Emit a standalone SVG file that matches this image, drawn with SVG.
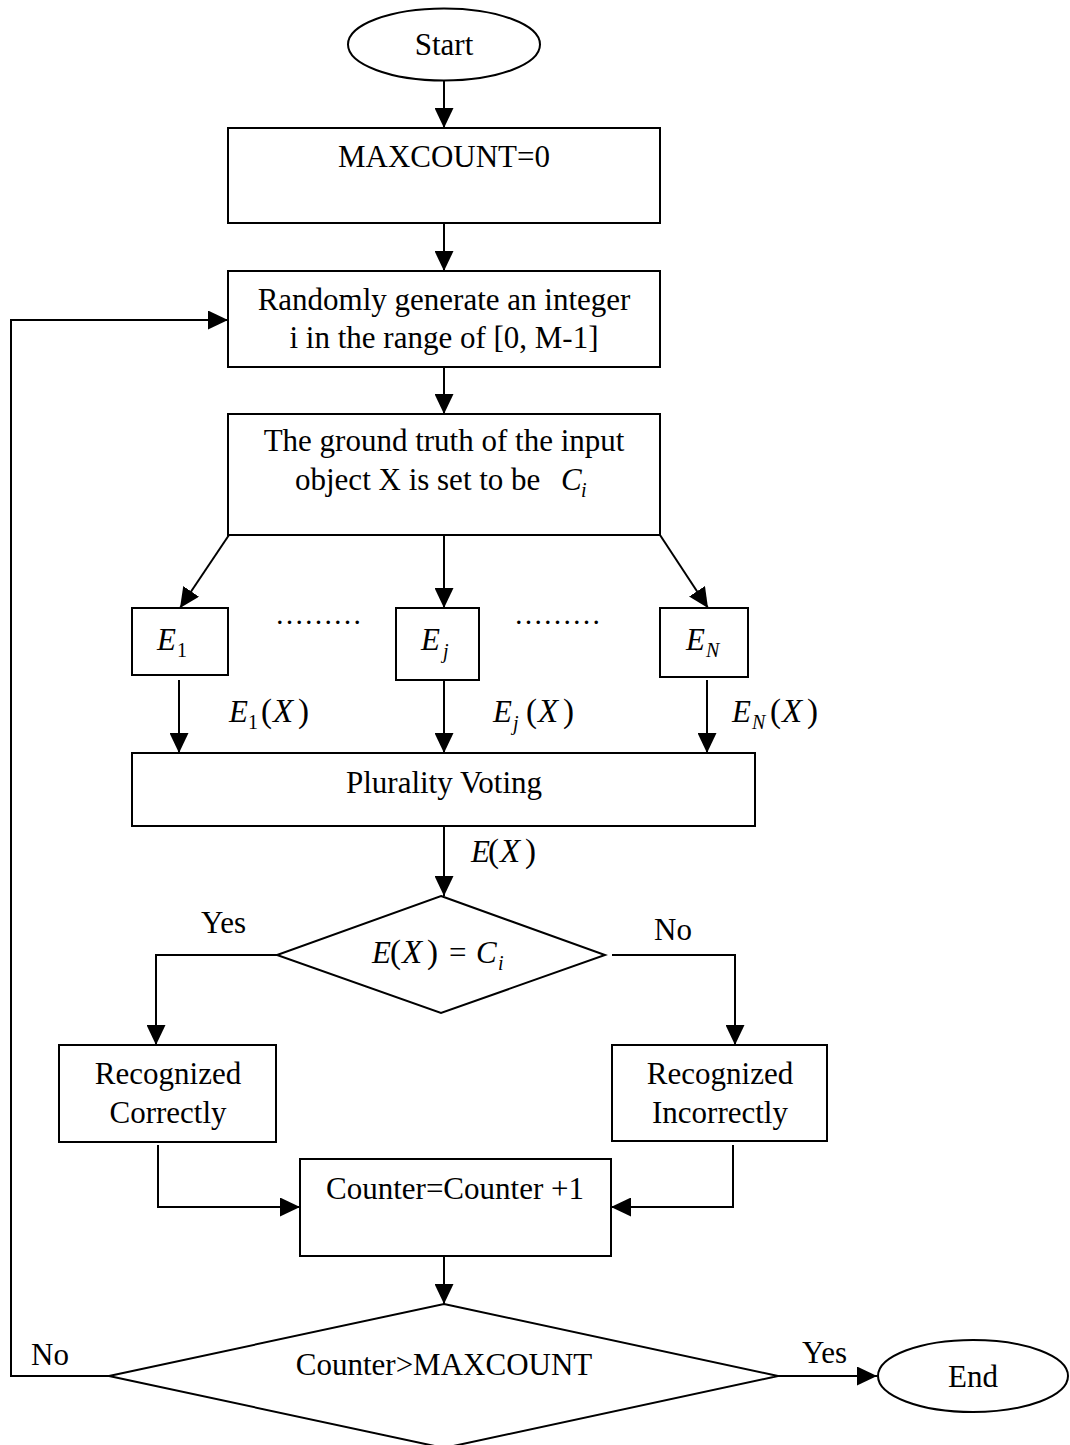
<svg xmlns="http://www.w3.org/2000/svg" width="1070" height="1445" viewBox="0 0 1070 1445">
<defs>
<marker id="ah" markerUnits="userSpaceOnUse" markerWidth="20" markerHeight="19" refX="20" refY="9.5" orient="auto"><path d="M0,0 L20,9.5 L0,19 z" fill="#000"/></marker>
<style>
.n{fill:#fff;stroke:#000;stroke-width:2}
.c{fill:none;stroke:#000;stroke-width:2}
.a{marker-end:url(#ah)}
text{font-family:"Liberation Serif","Times New Roman",serif;font-size:31px;fill:#000}
.m{text-anchor:middle}
.i{font-style:italic}
.u{font-style:normal}
.s{font-size:20px}
.x{font-size:33px}
</style>
</defs>
<rect width="1070" height="1445" fill="#fff"/>
<g id="connectors">
<line class="c a" x1="444" y1="81" x2="444" y2="128"/>
<line class="c a" x1="444" y1="223" x2="444" y2="271"/>
<line class="c a" x1="444" y1="367" x2="444" y2="414"/>
<line class="c a" x1="229" y1="535" x2="180" y2="608"/>
<line class="c a" x1="444" y1="535" x2="444" y2="608"/>
<line class="c a" x1="660" y1="535" x2="708" y2="608"/>
<line class="c a" x1="179" y1="680" x2="179" y2="753"/>
<line class="c a" x1="444" y1="680" x2="444" y2="753"/>
<line class="c a" x1="707" y1="680" x2="707" y2="753"/>
<line class="c a" x1="444" y1="826" x2="444" y2="896"/>
<polyline class="c a" points="277,955 156,955 156,1045"/>
<polyline class="c a" points="612,955 735,955 735,1045"/>
<polyline class="c a" points="158,1145 158,1207 300,1207"/>
<polyline class="c a" points="733,1145 733,1207 611,1207"/>
<line class="c a" x1="444" y1="1256" x2="444" y2="1304"/>
<polyline class="c a" points="109,1376 11,1376 11,320 228,320"/>
<line class="c a" x1="778" y1="1376" x2="877" y2="1376"/>
</g>
<g id="start">
<ellipse class="n" cx="444" cy="44.5" rx="96" ry="36"/>
<text class="m" x="444" y="55">Start</text>
</g>
<g id="maxcount">
<rect class="n" x="228" y="128" width="432" height="95"/>
<text class="m" x="444" y="167">MAXCOUNT=0</text>
</g>
<g id="random">
<rect class="n" x="228" y="271" width="432" height="96"/>
<text class="m" x="444" y="310">Randomly generate an integer</text>
<text class="m" x="444" y="348">i in the range of [0, M-1]</text>
</g>
<g id="groundtruth">
<rect class="n" x="228" y="414" width="432" height="121"/>
<text class="m" x="444" y="451">The ground truth of the input</text>
<text x="295" y="490">object X is set to be<tspan class="i" x="561">C</tspan><tspan class="i s" x="581" dy="7">i</tspan></text>
</g>
<g id="e1">
<rect class="n" x="132" y="608" width="96" height="67"/>
<text class="i" x="157" y="650">E<tspan class="u s" x="177" dy="7">1</tspan></text>
</g>
<g id="dots1"><text x="275" y="624" style="font-size:29px">………</text></g>
<g id="ej">
<rect class="n" x="396" y="608" width="83" height="72"/>
<text class="i" x="421" y="650">E<tspan class="s" x="443" dy="8">j</tspan></text>
</g>
<g id="dots2"><text x="514" y="624" style="font-size:29px">………</text></g>
<g id="en">
<rect class="n" x="660" y="608" width="88" height="69"/>
<text class="i" x="686" y="650">E<tspan class="s" x="706" dy="7">N</tspan></text>
</g>
<g id="labels">
<text class="i" x="229" y="722">E<tspan class="u s" x="248" dy="7">1</tspan><tspan class="u x" x="261" dy="-7">(</tspan><tspan class="x" x="273">X</tspan><tspan class="u x" x="298">)</tspan></text>
<text class="i" x="493" y="722">E<tspan class="s" x="513" dy="8">j</tspan><tspan class="u x" x="526" dy="-8">(</tspan><tspan class="x" x="538">X</tspan><tspan class="u x" x="563">)</tspan></text>
<text class="i" x="732" y="722">E<tspan class="s" x="752" dy="7">N</tspan><tspan class="u x" x="770" dy="-7">(</tspan><tspan class="x" x="782">X</tspan><tspan class="u x" x="807">)</tspan></text>
<text class="i" x="471" y="862">E<tspan class="u x" x="488">(</tspan><tspan class="x" x="500">X</tspan><tspan class="u x" x="525">)</tspan></text>
<text x="201" y="933">Yes</text>
<text x="654" y="940">No</text>
<text x="31" y="1365">No</text>
<text x="802" y="1363">Yes</text>
</g>
<g id="plurality">
<rect class="n" x="132" y="753" width="623" height="73"/>
<text class="m" x="444" y="793">Plurality Voting</text>
</g>
<g id="decision1">
<polygon class="n" points="441,896 605,955 441,1013 277,955"/>
<text class="i" x="372" y="963">E<tspan class="u x" x="390">(</tspan><tspan class="x" x="402">X</tspan><tspan class="u x" x="427">)</tspan><tspan class="u" x="449">=</tspan><tspan x="476">C</tspan><tspan class="s" x="498" dy="7">i</tspan></text>
</g>
<g id="correct">
<rect class="n" x="59" y="1045" width="217" height="97"/>
<text class="m" x="168" y="1084">Recognized</text>
<text class="m" x="168" y="1123">Correctly</text>
</g>
<g id="incorrect">
<rect class="n" x="612" y="1045" width="215" height="96"/>
<text class="m" x="720" y="1084">Recognized</text>
<text class="m" x="720" y="1123">Incorrectly</text>
</g>
<g id="counter">
<rect class="n" x="300" y="1159" width="311" height="97"/>
<text class="m" x="455" y="1199">Counter=Counter +1</text>
</g>
<g id="decision2">
<polygon class="n" points="444,1304 778,1376 444,1448 109,1376"/>
<text class="m" x="444" y="1375">Counter&gt;MAXCOUNT</text>
</g>
<g id="end">
<ellipse class="n" cx="973" cy="1376" rx="95" ry="36"/>
<text class="m" x="973" y="1387">End</text>
</g>
</svg>
